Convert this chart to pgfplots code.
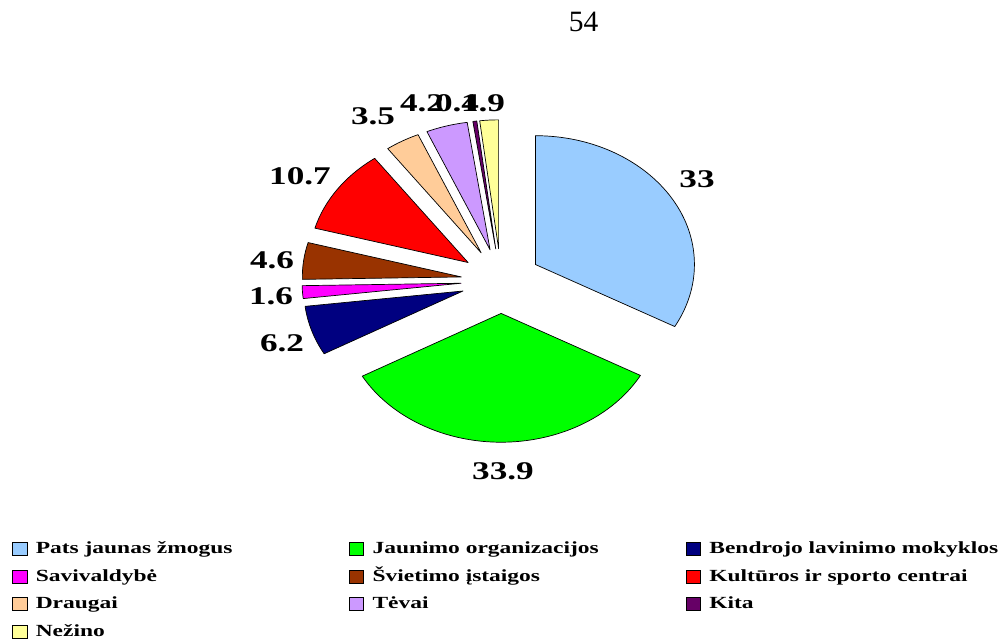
\documentclass[border=0pt]{standalone}
\usepackage{pgfplots}
\pgfplotsset{compat=1.18}
\usepackage{pgfplotstable}
\usepackage{fontspec}
\setmainfont{Liberation Serif}
\newfontfamily\wfont[FakeStretch=1.38]{Liberation Serif}
\newcommand\lblfont{\wfont\bfseries\fontsize{25.5}{30}\selectfont}
\newcommand\lgfont{\wfont\bfseries\fontsize{17}{20}\selectfont}

\definecolor{slc0}{HTML}{99CCFF}
\definecolor{slc1}{HTML}{00FF00}
\definecolor{slc2}{HTML}{000080}
\definecolor{slc3}{HTML}{FF00FF}
\definecolor{slc4}{HTML}{993300}
\definecolor{slc5}{HTML}{FF0000}
\definecolor{slc6}{HTML}{FFCC99}
\definecolor{slc7}{HTML}{CC99FF}
\definecolor{slc8}{HTML}{660066}
\definecolor{slc9}{HTML}{FFFF99}

% value = share in percent; lx, ly = centre of the data label (picture pixels)
\pgfplotstableread[col sep=semicolon]{
name;value;lx;ly
Pats jaunas žmogus;33;697;179
Jaunimo organizacijos;33.9;503;471
Bendrojo lavinimo mokyklos;6.2;282;343
Savivaldybė;1.6;271;296
Švietimo įstaigos;4.6;272;260
Kultūros ir sporto centrai;10.7;300;176
Draugai;3.5;373;116
Tėvai;4.2;422;103.5
Kita;0.4;457;103.5
Nežino;1.9;483;103.5
}\piedata

\newcommand\pcx{501}
\newcommand\pcy{281}

\begin{document}
\gdef\pcum{0}%
\foreach \i in {0,...,9}{%
  \pgfplotstablegetelem{\i}{value}\of\piedata
  \let\pcurv\pgfplotsretval
  \expandafter\xdef\csname lb\i\endcsname{\pcurv}%
  \pgfplotstablegetelem{\i}{name}\of\piedata
  \expandafter\xdef\csname nm\i\endcsname{\pgfplotsretval}%
  \pgfplotstablegetelem{\i}{lx}\of\piedata
  \expandafter\xdef\csname lx\i\endcsname{\pgfplotsretval}%
  \pgfplotstablegetelem{\i}{ly}\of\piedata
  \expandafter\xdef\csname ly\i\endcsname{\pgfplotsretval}%
  \pgfmathsetmacro\pts{\pcum*3.6}%
  \pgfmathsetmacro\pte{(\pcum+\pcurv)*3.6}%
  \pgfmathsetmacro\ptm{(\pts+\pte)/2}%
  \pgfmathsetmacro\pvx{\pcx+40*sin(\ptm)}%
  \pgfmathsetmacro\pvy{\pcy-32.4*cos(\ptm)}%
  \pgfmathsetmacro\pax{159*sin(\pts)}%
  \pgfmathsetmacro\pay{128.8*cos(\pts)}%
  \pgfmathsetmacro\psa{90-\pts}%
  \pgfmathsetmacro\pea{90-\pte}%
  \expandafter\xdef\csname vx\i\endcsname{\pvx}%
  \expandafter\xdef\csname vy\i\endcsname{\pvy}%
  \expandafter\xdef\csname ax\i\endcsname{\pax}%
  \expandafter\xdef\csname ay\i\endcsname{\pay}%
  \expandafter\xdef\csname sa\i\endcsname{\psa}%
  \expandafter\xdef\csname ea\i\endcsname{\pea}%
  \pgfmathsetmacro\pnc{\pcum+\pcurv}%
  \xdef\pcum{\pnc}%
}%
\begin{tikzpicture}
\begin{axis}[
  x=1pt, y=1pt, y dir=reverse,
  xmin=0, xmax=1002, ymin=0, ymax=644,
  enlargelimits=false,
  hide axis, clip=false,
  legend columns=3,
  legend image code/.code={%
    \draw[#1] (0pt,-6.5pt) rectangle (14.5pt,6.5pt);
    \path[draw=none, fill=none] (0pt,0pt) -- (23.5pt,0pt);
  },
  legend style={draw=none, fill=none, inner sep=0pt, outer sep=0pt,
    at={(axis cs:12,541.5)}, anchor=north west,
    font=\lgfont, row sep=12pt, column sep=0pt,
    nodes={inner sep=0pt, text height=12pt, text depth=3.5pt}},
  legend cell align=left,
]
\pgfplotsinvokeforeach{0,...,9}{%
  \edef\ptmp{\noexpand\filldraw[fill=slc#1, draw=black, line width=0.7pt, line join=round]
    (axis cs:\csname vx#1\endcsname,\csname vy#1\endcsname)
    -- ++(\csname ax#1\endcsname pt,\csname ay#1\endcsname pt)
    arc[start angle=\csname sa#1\endcsname, end angle=\csname ea#1\endcsname,
        x radius=159pt, y radius=128.8pt] -- cycle;}%
  \ptmp
  \edef\ptmp{\noexpand\node[font=\noexpand\lblfont]
    at (axis cs:\csname lx#1\endcsname,\csname ly#1\endcsname) {\csname lb#1\endcsname};}%
  \ptmp
  \addlegendimage{fill=slc#1, draw=black, line width=0.6pt}
  \edef\ptmp{\noexpand\addlegendentry{\noexpand\makebox[313pt][l]{\csname nm#1\endcsname}}}%
  \ptmp
}
\node[font=\fontsize{29.5}{34}\selectfont] at (axis cs:583.5,21.7) {54};
\coordinate (BL) at (axis cs:0,644);
\coordinate (TR) at (axis cs:1002,0);
\end{axis}
\pgfresetboundingbox
\useasboundingbox (BL) rectangle (TR);
\end{tikzpicture}
\end{document}
